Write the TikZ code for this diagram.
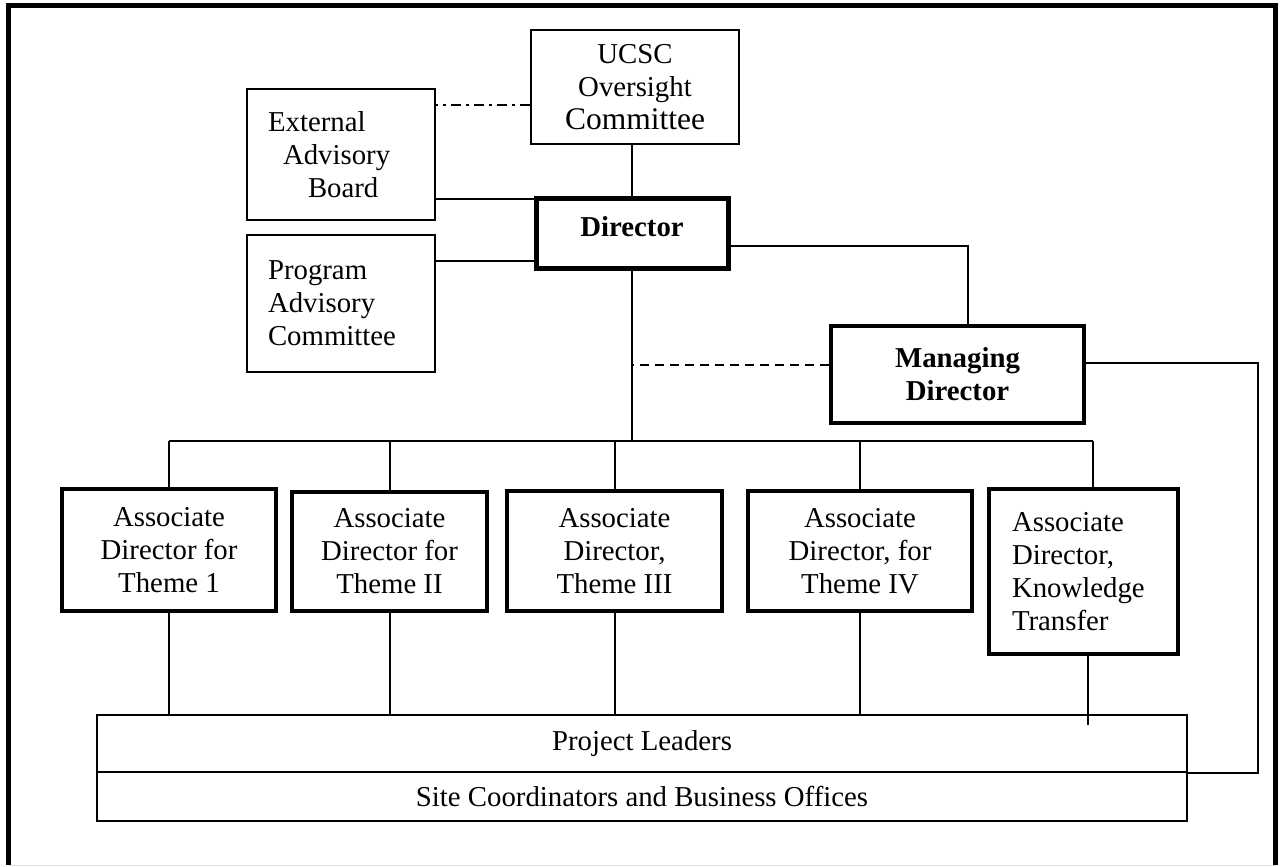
\documentclass[tikz,border=0pt]{standalone}
\usepackage{fontspec}
\setmainfont{Liberation Serif}
\usepackage{tikz}
\usetikzlibrary{positioning,calc}
\newcommand{\orgfont}{\fontsize{28.8}{33}\selectfont}

\begin{document}
\begin{tikzpicture}[x=1pt,y=-1pt,
  panel/.style={draw,line width=2pt,align=center,font=\orgfont,inner sep=0pt},
  chief/.style={panel,line width=5pt,font=\orgfont\bfseries},
  assoc/.style={panel,line width=4pt,minimum height=120pt},
  band/.style={panel,line width=2pt,minimum width=1090pt},
  ln/.style={line width=2pt}
]
\useasboundingbox (0,0) rectangle (1282,867);
\draw[line width=5pt] (8.5,865) -- (8.5,5.5) -- (1275.5,5.5) -- (1275.5,865);
\draw[gray!25,line width=1pt] (8.5,865) -- (1275.5,865);

\node[panel,minimum width=208pt,minimum height=114pt] (ucsc) at (635,87) {UCSC\\Oversight\\{\fontsize{31.5}{33}\selectfont Committee}};
\node[panel,minimum width=188pt,minimum height=131pt,text width=146pt,align=left] (eab) at (341,154.5) {External\\\hspace*{15pt}Advisory\\\hspace*{40pt}Board};
\node[panel,minimum width=188pt,minimum height=137pt,text width=146pt,align=left] (pac) at (341,303.5) {Program\\Advisory\\Committee};
\node[chief,minimum width=192pt,minimum height=70pt,text depth=12pt] (dir) at (632,233) {Director};
\node[chief,line width=4.5pt,minimum width=253pt,minimum height=97pt] (md) at (957.5,374.5) {Managing\\Director};

\node[assoc,minimum width=214pt,minimum height=122pt] (a1) at (169,550) {Associate\\Director for\\Theme 1};
\node[assoc,minimum width=195pt,minimum height=119pt] (a2) at (389.5,551.5) {Associate\\Director for\\Theme II};
\node[assoc,minimum width=215pt] (a3) at (614.5,551) {Associate\\Director,\\Theme III};
\node[assoc,minimum width=224pt] (a4) at (860,551) {Associate\\Director, for\\Theme IV};
\node[assoc,minimum width=189pt,minimum height=165pt,text width=143pt,align=left] (a5) at (1083.5,571.5) {Associate\\Director,\\Knowledge\\Transfer};

\node[band,minimum height=57pt] (pl) at (642,743.5) {Project Leaders};
\node[band,minimum height=49pt] (sc) at (642,796.5) {Site Coordinators and Business Offices};

\coordinate (bus) at (632,441);

\draw[ln] (dir.north) -- (dir.north |- ucsc.south);
\draw[ln,dash pattern=on 10pt off 5pt on 3pt off 5pt] ($(ucsc.west)+(0,18)$) -- ($(ucsc.west -| eab.east)+(0,18)$);
\draw[ln] ($(dir.north west)+(0,3)$) -- ($(dir.north west -| eab.east)+(0,3)$);
\draw[ln] ($(dir.west)+(0,28)$) -- ($(dir.west -| pac.east)+(0,28)$);
\draw[ln] ($(dir.east)+(0,13)$) -| ($(md.north)+(10.5,0)$);
\draw[ln] (dir.south) -- (bus);
\draw[ln,dash pattern=on 9pt off 6pt] ($(md.west)+(0,-9.5)$) -- ($(md.west -| bus)+(0,-9.5)$);

\draw[ln] (a1.north |- bus) -- ($(a5.north |- bus)+(9.5,0)$);
\foreach \n in {a1,a2,a3,a4} {
  \draw[ln] (\n.north |- bus) -- (\n.north);
  \draw[ln] (\n.south) -- (\n.south |- pl.north);
}
\draw[ln] ($(a5.north |- bus)+(9.5,0)$) -- ($(a5.north)+(9.5,0)$);
\draw[ln] ($(a5.south)+(4.5,0)$) -- ($(a5.south |- pl.north)+(4.5,11)$);

\draw[ln] ($(md.east)+(0,-11.5)$) -- ++(172,0) |- (pl.south east);
\end{tikzpicture}
\end{document}
